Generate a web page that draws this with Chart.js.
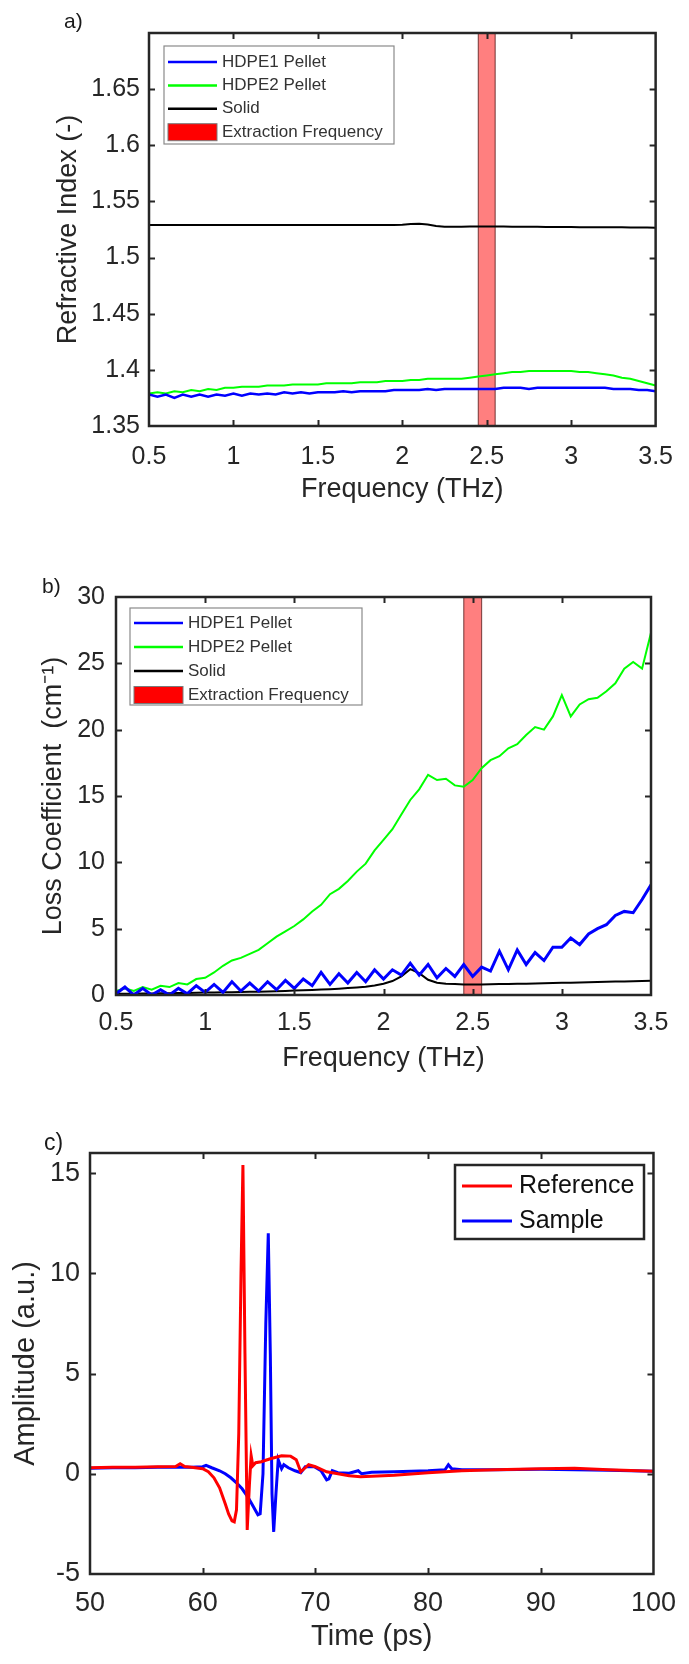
<!DOCTYPE html>
<html>
<head>
<meta charset="utf-8">
<title>HDPE THz characterisation</title>
<script src="https://cdn.jsdelivr.net/npm/chart.js@4.4.1/dist/chart.umd.min.js"></script>
<style>
    html, body { margin: 0; padding: 0; background: #fff; }
    #page { position: relative; width: 689px; height: 1664px; overflow: hidden; }
    #page canvas { position: absolute; left: 0; }
    .panel-tag {
        position: absolute;
        font-family: 'Liberation Sans', Arial, sans-serif;
        line-height: 1;
        color: #1a1a1a;
    }
</style>
</head>
<body>
<div id="page">
    <canvas id="chart-refractive" width="689" height="520" style="top:0px"></canvas>
    <canvas id="chart-loss" width="689" height="560" style="top:520px"></canvas>
    <canvas id="chart-time" width="689" height="584" style="top:1080px"></canvas>
    <div class="panel-tag" style="left:64px; top:10px; font-size:21px;">a)</div>
    <div class="panel-tag" style="left:42px; top:575px; font-size:21px;">b)</div>
    <div class="panel-tag" style="left:44px; top:1131px; font-size:23px;">c)</div>
</div>

<script>
// ---- Data ----

// Frequency axis shared by panels a) and b) (THz)
const freqTHz = [
    0.50, 0.55, 0.60, 0.65, 0.70, 0.75, 0.80, 0.85, 0.90, 0.95,
    1.00, 1.05, 1.10, 1.15, 1.20, 1.25, 1.30, 1.35, 1.40, 1.45,
    1.50, 1.55, 1.60, 1.65, 1.70, 1.75, 1.80, 1.85, 1.90, 1.95,
    2.00, 2.05, 2.10, 2.15, 2.20, 2.25, 2.30, 2.35, 2.40, 2.45,
    2.50, 2.55, 2.60, 2.65, 2.70, 2.75, 2.80, 2.85, 2.90, 2.95,
    3.00, 3.05, 3.10, 3.15, 3.20, 3.25, 3.30, 3.35, 3.40, 3.45,
    3.50
];

// a) refractive index
const indexHdpe1 = [
    1.378, 1.376, 1.378, 1.375, 1.378, 1.376, 1.378, 1.376, 1.378, 1.377,
    1.379, 1.377, 1.379, 1.378, 1.379, 1.378, 1.380, 1.379, 1.380, 1.379,
    1.380, 1.380, 1.380, 1.381, 1.380, 1.381, 1.381, 1.381, 1.381, 1.382,
    1.382, 1.382, 1.382, 1.383, 1.382, 1.383, 1.383, 1.383, 1.383, 1.383,
    1.383, 1.383, 1.384, 1.384, 1.384, 1.383, 1.384, 1.384, 1.384, 1.384,
    1.384, 1.384, 1.384, 1.384, 1.384, 1.383, 1.383, 1.383, 1.382, 1.382,
    1.381
];
const indexHdpe2 = [
    1.379, 1.380, 1.379, 1.381, 1.380, 1.382, 1.381, 1.383, 1.382, 1.384,
    1.384, 1.385, 1.385, 1.385, 1.386, 1.386, 1.386, 1.387, 1.387, 1.387,
    1.387, 1.388, 1.388, 1.388, 1.388, 1.389, 1.389, 1.389, 1.390, 1.390,
    1.390, 1.391, 1.391, 1.392, 1.392, 1.392, 1.392, 1.392, 1.393, 1.394,
    1.395, 1.396, 1.397, 1.398, 1.398, 1.399, 1.399, 1.399, 1.399, 1.399,
    1.399, 1.398, 1.398, 1.397, 1.396, 1.395, 1.393, 1.392, 1.390, 1.388,
    1.386
];
const indexSolid = [
    1.529, 1.529, 1.529, 1.529, 1.529, 1.529, 1.529, 1.529, 1.529, 1.529,
    1.529, 1.529, 1.529, 1.529, 1.529, 1.529, 1.529, 1.529, 1.529, 1.529,
    1.529, 1.529, 1.529, 1.529, 1.529, 1.529, 1.529, 1.529, 1.529, 1.529,
    1.5293, 1.5298, 1.5302, 1.5295, 1.5282, 1.5275, 1.5275, 1.5275, 1.5276, 1.5276,
    1.5276, 1.5276, 1.5276, 1.5275, 1.5275, 1.5274, 1.5274, 1.5273, 1.5273, 1.5272,
    1.5272, 1.5271, 1.5271, 1.5270, 1.5270, 1.5269, 1.5269, 1.5268, 1.5267, 1.5267,
    1.5266
];

// b) loss coefficient (cm^-1)
const lossHdpe1 = [
    0.1, 0.6, 0.0, 0.5, 0.0, 0.4, 0.0, 0.5, 0.1, 0.7,
    0.2, 0.8, 0.2, 1.0, 0.3, 0.9, 0.3, 1.0, 0.4, 1.1,
    0.5, 1.2, 0.7, 1.7, 0.8, 1.6, 0.9, 1.7, 1.0, 1.9,
    1.2, 1.9, 1.5, 2.4, 1.5, 2.3, 1.3, 2.0, 1.4, 2.3,
    1.4, 2.1, 1.8, 3.3, 1.9, 3.4, 2.3, 3.2, 2.6, 3.6,
    3.6, 4.3, 3.8, 4.6, 5.0, 5.3, 6.0, 6.3, 6.2, 7.2,
    8.3
];
const lossHdpe2 = [
    0.3, 0.5, 0.3, 0.6, 0.4, 0.7, 0.6, 0.9, 0.8, 1.2,
    1.3, 1.7, 2.2, 2.6, 2.8, 3.1, 3.4, 3.9, 4.4, 4.8,
    5.2, 5.7, 6.3, 6.8, 7.6, 8.0, 8.6, 9.3, 9.9, 10.9,
    11.7, 12.5, 13.6, 14.7, 15.5, 16.6, 16.2, 16.3, 15.8, 15.7,
    16.2, 17.1, 17.7, 18.0, 18.6, 18.9, 19.6, 20.2, 20.0, 21.0,
    22.6, 21.0, 21.9, 22.3, 22.4, 22.9, 23.5, 24.6, 25.1, 24.6,
    27.3
];
const lossSolid = [
    0.10, 0.10, 0.10, 0.11, 0.12, 0.13, 0.14, 0.15, 0.16, 0.17,
    0.18, 0.19, 0.20, 0.21, 0.22, 0.24, 0.25, 0.27, 0.29, 0.31,
    0.33, 0.35, 0.38, 0.41, 0.44, 0.48, 0.52, 0.57, 0.63, 0.72,
    0.85, 1.05, 1.40, 1.95, 1.65, 1.15, 0.92, 0.85, 0.82, 0.80,
    0.80, 0.80, 0.81, 0.82, 0.83, 0.84, 0.85, 0.87, 0.88, 0.90,
    0.92, 0.93, 0.95, 0.96, 0.98, 0.99, 1.01, 1.02, 1.04, 1.06,
    1.08
];

// extraction frequency band (THz)
const extractionBand = [2.45, 2.55];

// c) time-domain pulses
const timeRef = [
    50, 52, 54, 56, 57.6, 58.0, 58.4, 59, 60, 60.5,
    61, 61.5, 62, 62.3, 62.6, 62.8, 63.0, 63.2, 63.4, 63.57,
    63.75, 63.95, 64.15, 64.3, 64.45, 64.7, 65.2, 66, 67, 67.8,
    68.3, 68.7, 69.0, 69.4, 70, 71, 72, 73, 74, 75,
    77, 80, 83, 86, 90, 93, 96, 100
];
const ampRef = [
    0.30, 0.32, 0.33, 0.35, 0.36, 0.50, 0.36, 0.33, 0.25, 0.10,
    -0.20, -0.70, -1.50, -2.00, -2.35, -2.40, -1.80, 2.00, 10.0, 15.4,
    6.0, -2.80, -0.50, 0.90, 0.40, 0.55, 0.60, 0.75, 0.90, 0.88,
    0.70, 0.10, 0.25, 0.45, 0.35, 0.10, 0.00, -0.10, -0.15, -0.12,
    -0.08, 0.05, 0.15, 0.20, 0.25, 0.28, 0.20, 0.12
];
const timeSam = [
    50, 52, 54, 56, 58, 59, 60, 60.3, 60.8, 61.5,
    62, 62.5, 63, 63.5, 64, 64.5, 64.9, 65.1, 65.35, 65.6,
    65.82, 66.0, 66.15, 66.3, 66.5, 66.7, 67.0, 67.2, 67.6, 68.2,
    68.7, 69.1, 69.9, 70.5, 71.0, 71.2, 71.5, 72, 73, 73.8,
    74.1, 75, 77, 80, 81.5, 81.8, 82.1, 83, 86, 90,
    93, 96, 100
];
const ampSam = [
    0.28, 0.30, 0.30, 0.32, 0.33, 0.32, 0.35, 0.42, 0.30, 0.15,
    0.00, -0.20, -0.45, -0.75, -1.15, -1.65, -2.05, -2.00, 0.00, 7.5,
    12.0, 6.0, -1.0, -2.90, -1.00, 0.70, 0.25, 0.45, 0.30, 0.15,
    0.05, 0.35, 0.35, 0.15, -0.30, -0.25, 0.15, 0.05, 0.03, 0.15,
    0.00, 0.08, 0.10, 0.15, 0.20, 0.45, 0.25, 0.20, 0.20, 0.22,
    0.20, 0.18, 0.12
];

// tick labels
const freqTicks = [0.5, 1, 1.5, 2, 2.5, 3, 3.5];
const indexTicks = [1.35, 1.4, 1.45, 1.5, 1.55, 1.6, 1.65];
const lossTicks = [0, 5, 10, 15, 20, 25, 30];
const timeTicks = [50, 60, 70, 80, 90, 100];
const ampTicks = [-5, 0, 5, 10, 15];

// series names
const seriesNames = ['HDPE1 Pellet', 'HDPE2 Pellet', 'Solid'];
const bandName = 'Extraction Frequency';
const pulseNames = ['Reference', 'Sample'];

// ---- Styling ----
const FONT = "'Liberation Sans', Arial, Helvetica, sans-serif";
const AXIS_COLOR = '#262626';

/**
 * Zip an x array and a y array into {x, y} points
 */
function toPoints(xs, ys) {
    return xs.map((x, i) => ({ x: x, y: ys[i] }));
}

/**
 * MATLAB-like box: frame around the plot area plus inward ticks on all four sides
 */
const framePlugin = {
    id: 'boxFrame',
    afterDatasetsDraw(chart, args, opts) {
        const { ctx, chartArea: a } = chart;
        const xs = chart.scales.x;
        const ys = chart.scales.y;
        ctx.save();
        ctx.strokeStyle = opts.color;
        ctx.lineWidth = opts.tickWidth;
        ctx.beginPath();
        xs.ticks.forEach(t => {
            const px = Math.round(xs.getPixelForValue(t.value)) + 0.5;
            if (px <= a.left + 2 || px >= a.right - 2) return;
            ctx.moveTo(px, a.bottom);
            ctx.lineTo(px, a.bottom - opts.tickLen);
            ctx.moveTo(px, a.top);
            ctx.lineTo(px, a.top + opts.tickLen);
        });
        ys.ticks.forEach(t => {
            const py = Math.round(ys.getPixelForValue(t.value)) + 0.5;
            if (py <= a.top + 2 || py >= a.bottom - 2) return;
            ctx.moveTo(a.left, py);
            ctx.lineTo(a.left + opts.tickLen, py);
            ctx.moveTo(a.right, py);
            ctx.lineTo(a.right - opts.tickLen, py);
        });
        ctx.stroke();
        ctx.lineWidth = opts.lineWidth;
        ctx.strokeRect(a.left, a.top, a.right - a.left, a.bottom - a.top);
        ctx.restore();
    }
};

/**
 * Shaded frequency band, placed with the x scale
 */
const bandPlugin = {
    id: 'freqBand',
    beforeDatasetsDraw(chart, args, opts) {
        if (!opts.range) return;
        const { ctx, chartArea: a } = chart;
        const xs = chart.scales.x;
        const x0 = xs.getPixelForValue(opts.range[0]);
        const x1 = xs.getPixelForValue(opts.range[1]);
        ctx.save();
        ctx.fillStyle = opts.fill;
        ctx.fillRect(x0, a.top, x1 - x0, a.bottom - a.top);
        ctx.strokeStyle = opts.edge;
        ctx.lineWidth = 1.2;
        ctx.strokeRect(x0, a.top, x1 - x0, a.bottom - a.top);
        ctx.restore();
    }
};

/**
 * Boxed legend drawn inside the plot, like MATLAB's legend
 */
const boxLegendPlugin = {
    id: 'boxLegend',
    afterDraw(chart, args, o) {
        if (!o.box) return;
        const ctx = chart.ctx;
        const items = chart.data.datasets.map(ds => ({
            label: ds.label, color: ds.borderColor, kind: 'line'
        }));
        if (o.patch) items.push({ label: o.patch.label, color: o.patch.color, kind: 'patch' });

        ctx.save();
        ctx.fillStyle = '#ffffff';
        ctx.fillRect(o.box.x, o.box.y, o.box.w, o.box.h);
        ctx.strokeStyle = o.borderColor;
        ctx.lineWidth = o.borderWidth;
        ctx.strokeRect(o.box.x, o.box.y, o.box.w, o.box.h);

        ctx.font = o.fontSize + 'px ' + FONT;
        ctx.textBaseline = 'middle';
        ctx.textAlign = 'left';
        items.forEach((item, i) => {
            const cy = o.box.y + o.firstRow + i * o.rowGap;
            if (item.kind === 'line') {
                ctx.strokeStyle = item.color;
                ctx.lineWidth = o.lineWidth;
                ctx.beginPath();
                ctx.moveTo(o.lineX[0], cy);
                ctx.lineTo(o.lineX[1], cy);
                ctx.stroke();
            } else {
                ctx.fillStyle = item.color;
                ctx.fillRect(o.lineX[0], cy - 8.5, o.lineX[1] - o.lineX[0], 17);
                ctx.strokeStyle = '#7a7a7a';
                ctx.lineWidth = 1;
                ctx.strokeRect(o.lineX[0], cy - 8.5, o.lineX[1] - o.lineX[0], 17);
            }
            ctx.fillStyle = o.textColor;
            ctx.fillText(item.label, o.textX, cy);
        });
        ctx.restore();
    }
};

/**
 * Build a linear axis with fixed tick list and fixed thickness
 */
function makeAxis(opts) {
    const vertical = opts.vertical;
    return {
        type: 'linear',
        position: vertical ? 'left' : 'bottom',
        min: opts.min,
        max: opts.max,
        grid: { display: false, drawTicks: false },
        border: { display: false },
        afterBuildTicks: scale => {
            scale.ticks = opts.ticks.map(v => ({ value: v }));
        },
        afterFit: scale => {
            if (vertical) scale.width = opts.size;
            else scale.height = opts.size;
        },
        ticks: {
            font: { family: FONT, size: opts.tickSize },
            color: AXIS_COLOR,
            padding: opts.tickPad,
            autoSkip: false,
            maxRotation: 0,
            callback: v => String(v)
        },
        title: {
            display: true,
            text: opts.title,
            font: { family: FONT, size: opts.titleSize },
            color: AXIS_COLOR,
            padding: vertical ? { top: opts.titlePad, bottom: 0 } : { top: 0, bottom: opts.titlePad }
        }
    };
}

/**
 * Common chart config for the three panels
 */
function makeConfig(datasets, xAxis, yAxis, padding, pluginOpts) {
    return {
        type: 'line',
        data: { datasets: datasets },
        options: {
            responsive: false,
            animation: false,
            events: [],
            layout: { padding: padding },
            elements: { point: { radius: 0 }, line: { tension: 0 } },
            scales: { x: xAxis, y: yAxis },
            plugins: Object.assign({
                legend: { display: false },
                tooltip: { enabled: false },
                boxFrame: { color: AXIS_COLOR, lineWidth: 2.5, tickWidth: 2, tickLen: 6 }
            }, pluginOpts)
        },
        plugins: [bandPlugin, framePlugin, boxLegendPlugin]
    };
}

const abLegendStyle = {
    borderColor: '#8a8a8a', borderWidth: 1.2, fontSize: 17,
    textColor: '#333333', lineWidth: 2.5,
    patch: { label: bandName, color: '#ff0000' }
};
const bandStyle = { range: extractionBand, fill: 'rgba(255, 0, 0, 0.5)', edge: 'rgba(60, 0, 0, 0.6)' };

// ---- a) Refractive index ----
function createRefractiveChart() {
    const canvas = document.getElementById('chart-refractive');
    const datasets = [
        { label: seriesNames[0], data: toPoints(freqTHz, indexHdpe1), borderColor: '#0000ff', borderWidth: 2.5 },
        { label: seriesNames[1], data: toPoints(freqTHz, indexHdpe2), borderColor: '#00ff00', borderWidth: 2 },
        { label: seriesNames[2], data: toPoints(freqTHz, indexSolid), borderColor: '#000000', borderWidth: 2 }
    ];
    const xAxis = makeAxis({ min: 0.5, max: 3.5, ticks: freqTicks, size: 94, tickSize: 25, tickPad: 16,
        title: 'Frequency (THz)', titleSize: 27, titlePad: 14 });
    const yAxis = makeAxis({ vertical: true, min: 1.35, max: 1.70, ticks: indexTicks, size: 149, tickSize: 25, tickPad: 9,
        title: 'Refractive Index (-)', titleSize: 27, titlePad: 52 });
    const legend = Object.assign({}, abLegendStyle, {
        box: { x: 164, y: 46, w: 230, h: 98 }, firstRow: 16, rowGap: 23.4, lineX: [168, 217], textX: 222
    });
    new Chart(canvas, makeConfig(datasets, xAxis, yAxis,
        { top: 33, right: 24, bottom: 0, left: 0 },
        { freqBand: bandStyle, boxLegend: legend }));
}

// ---- b) Loss coefficient ----
function createLossChart() {
    const canvas = document.getElementById('chart-loss');
    const datasets = [
        { label: seriesNames[0], data: toPoints(freqTHz, lossHdpe1), borderColor: '#0000ff', borderWidth: 3 },
        { label: seriesNames[1], data: toPoints(freqTHz, lossHdpe2), borderColor: '#00ff00', borderWidth: 2 },
        { label: seriesNames[2], data: toPoints(freqTHz, lossSolid), borderColor: '#000000', borderWidth: 2 }
    ];
    const xAxis = makeAxis({ min: 0.5, max: 3.5, ticks: freqTicks, size: 85, tickSize: 25, tickPad: 13,
        title: 'Frequency (THz)', titleSize: 27, titlePad: 5 });
    const yAxis = makeAxis({ vertical: true, min: 0, max: 30, ticks: lossTicks, size: 116, tickSize: 25, tickPad: 11,
        title: 'Loss Coefficient  (cm\u207B\u00B9)', titleSize: 27, titlePad: 37 });
    const legend = Object.assign({}, abLegendStyle, {
        box: { x: 130, y: 88, w: 232, h: 97 }, firstRow: 15, rowGap: 24, lineX: [134, 183], textX: 188
    });
    new Chart(canvas, makeConfig(datasets, xAxis, yAxis,
        { top: 77, right: 38, bottom: 0, left: 0 },
        { freqBand: bandStyle, boxLegend: legend }));
}

// ---- c) Time-domain pulses ----
function createTimeChart() {
    const canvas = document.getElementById('chart-time');
    const datasets = [
        { label: pulseNames[0], data: toPoints(timeRef, ampRef), borderColor: '#ff0000', borderWidth: 3 },
        { label: pulseNames[1], data: toPoints(timeSam, ampSam), borderColor: '#0000ff', borderWidth: 3 }
    ];
    const xAxis = makeAxis({ min: 50, max: 100, ticks: timeTicks, size: 90, tickSize: 27, tickPad: 13,
        title: 'Time (ps)', titleSize: 29, titlePad: 10 });
    const yAxis = makeAxis({ vertical: true, min: -5, max: 16, ticks: ampTicks, size: 90, tickSize: 27, tickPad: 10,
        title: 'Amplitude (a.u.)', titleSize: 29, titlePad: 9 });
    const legend = {
        box: { x: 455, y: 85, w: 189, h: 74 }, firstRow: 21, rowGap: 35,
        lineX: [462, 512], textX: 519, borderColor: '#262626', borderWidth: 2.5,
        fontSize: 25, textColor: '#111111', lineWidth: 3
    };
    new Chart(canvas, makeConfig(datasets, xAxis, yAxis,
        { top: 73, right: 32, bottom: 0, left: 0 },
        { boxLegend: legend }));
}

createRefractiveChart();
createLossChart();
createTimeChart();
</script>
</body>
</html>
